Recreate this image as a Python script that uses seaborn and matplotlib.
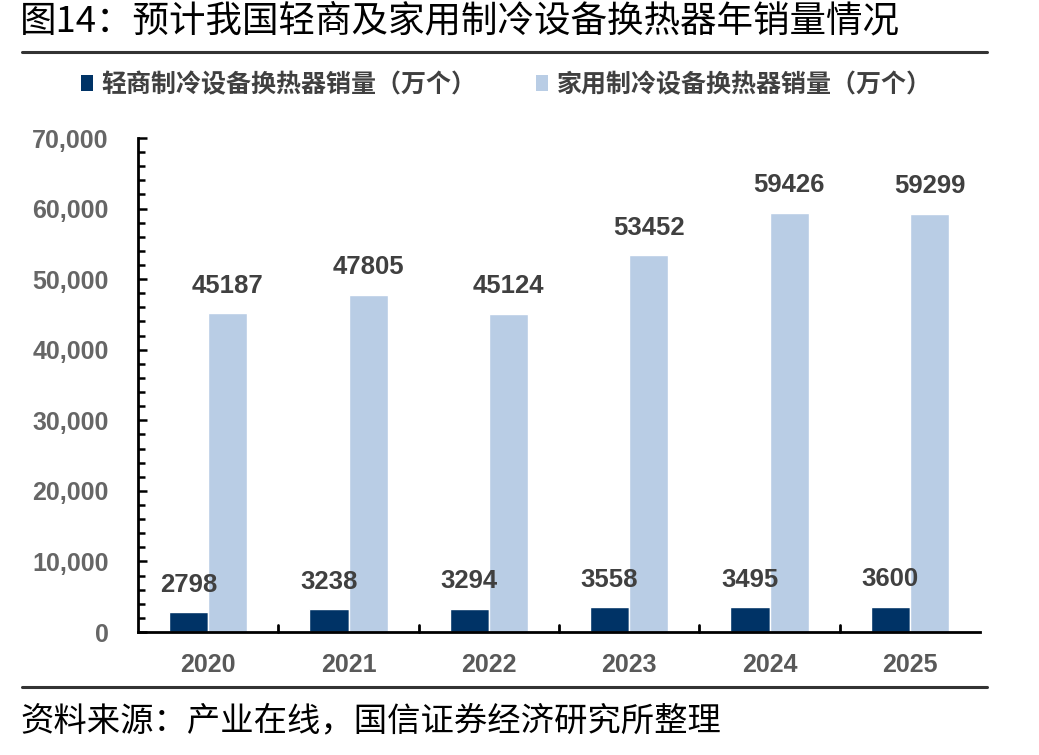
import matplotlib
matplotlib.use("Agg")
import matplotlib.pyplot as plt
import seaborn as sns
import pandas as pd
from matplotlib.ticker import MultipleLocator, FuncFormatter
from matplotlib.patches import Patch

years = ["2020", "2021", "2022", "2023", "2024", "2025"]
light_commercial = [2798, 3238, 3294, 3558, 3495, 3600]
household = [45187, 47805, 45124, 53452, 59426, 59299]
series_names = ["轻商制冷设备换热器销量（万个）", "家用制冷设备换热器销量（万个）"]
colors = ["#003366", "#B9CDE5"]

df = pd.DataFrame({
    "year": years * 2,
    "value": light_commercial + household,
    "series": [series_names[0]] * len(years) + [series_names[1]] * len(years),
})

sns.set_theme(style="white")
plt.rcParams["font.family"] = ["Noto Sans CJK SC", "DejaVu Sans"]
NUM_FONT = ["Liberation Sans", "DejaVu Sans"]

fig = plt.figure(figsize=(10.39, 7.55), dpi=100)
ax = fig.add_axes([138 / 1039, 1 - 632 / 755, (980 - 138) / 1039, (632 - 138) / 755])

sns.barplot(data=df, x="year", y="value", hue="series", palette=colors,
            width=0.56, saturation=1, ax=ax, legend=False)

ax.set_ylim(0, 70000)
ax.set_xlim(-0.5, 5.5)
ax.yaxis.set_major_locator(MultipleLocator(10000))
ax.yaxis.set_minor_locator(MultipleLocator(2000))
ax.yaxis.set_major_formatter(FuncFormatter(lambda v, p: f"{int(v):,}"))
ax.set_xlabel("")
ax.set_ylabel("")
for s in ["top", "right"]:
    ax.spines[s].set_visible(False)
for s in ["left", "bottom"]:
    ax.spines[s].set_color("black")
    ax.spines[s].set_linewidth(2)
ax.tick_params(axis="y", which="major", direction="in", length=6.5, width=1.8, color="black",
               left=True, labelsize=18, labelcolor="#666666", pad=21)
ax.tick_params(axis="y", which="minor", direction="in", length=5, width=1.8, color="black", left=True)
ax.tick_params(axis="x", which="both", bottom=False, labelsize=18, labelcolor="#595959", pad=9)
for lab in ax.get_yticklabels() + ax.get_xticklabels():
    lab.set_fontweight("bold")
    lab.set_family(NUM_FONT)
# category separator ticks on the x axis
for i in range(1, len(years)):
    ax.plot([i - 0.5, i - 0.5], [0, 1000], color="black", lw=2, clip_on=False)

for cont in ax.containers:
    ax.bar_label(cont, labels=[f"{int(v)}" for v in cont.datavalues], padding=11,
                 fontsize=18.5, fontweight="bold", color="#404040", family=NUM_FONT)

# title
fig.text(20 / 1039, 1 - 21 / 755, "图14：预计我国轻商及家用制冷设备换热器年销量情况",
         fontsize=26.3, va="center", ha="left", color="black")
fig.add_artist(plt.Line2D([22 / 1039, 987 / 1039], [1 - 52 / 755, 1 - 52 / 755], color="#333333", lw=2.2))
fig.add_artist(plt.Line2D([22 / 1039, 987 / 1039], [1 - 687 / 755, 1 - 687 / 755], color="#333333", lw=2.2))
fig.text(20 / 1039, 1 - 721 / 755, "资料来源：产业在线，国信证券经济研究所整理",
         fontsize=24, va="center", ha="left", color="black")

# legend
handles = [Patch(facecolor=c, edgecolor="none") for c in colors]
fig.legend(handles, series_names, loc="center left", bbox_to_anchor=(58 / 1039, 1 - 85 / 755),
           ncol=2, frameon=False, prop={"size": 18, "weight": "bold"},
           handlelength=0.48, handleheight=0.6,
           handletextpad=0.35, columnspacing=2.4, labelcolor="#404040")

fig.savefig("out.png", dpi=100)
